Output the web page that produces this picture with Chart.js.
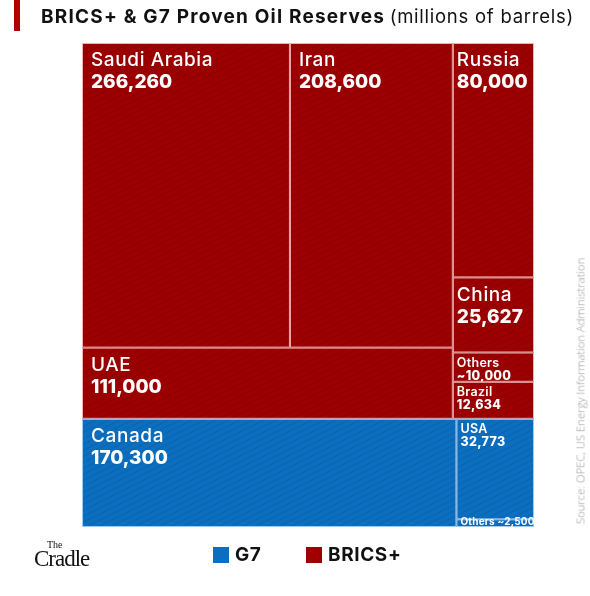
<!DOCTYPE html>
<html>
<head>
<meta charset="utf-8">
<script src="https://cdn.jsdelivr.net/npm/chart.js@4.4.1/dist/chart.umd.min.js"></script>
<style>
  html, body { margin: 0; padding: 0; background: #fff; }
  body { width: 590px; height: 596px; position: relative; overflow: hidden; font-family: Inter, "Open Sans", sans-serif; }
  #wrap { position: absolute; left: 0; top: 0; width: 590px; height: 596px; }
  .bar { position: absolute; left: 14px; top: 0; width: 6px; height: 31px; background: #b00000; }
  .title { position: absolute; left: 41px; top: 5px; color: #111; white-space: nowrap; }
  .title b { font-weight: 700; font-size: 19px; letter-spacing: 1.2px; }
  .title span { font-weight: 400; font-size: 18.5px; letter-spacing: 0.75px; }
  .legend-item { position: absolute; top: 543px; display: flex; align-items: center; font-weight: 700; font-size: 19px; color: #111; letter-spacing: 0.6px; }
  .legend-item i { display: inline-block; width: 16px; height: 16px; margin-right: 6px; }
  .logo { position: absolute; left: 34px; top: 538px; font-family: "Liberation Serif", "DejaVu Serif", serif; color: #111; line-height: 1; }
  .logo .the { position: absolute; left: 13px; top: 2px; font-size: 10px; }
  .logo .cradle { position: absolute; left: 0; top: 9px; font-size: 23px; letter-spacing: -1px; }
  .source { position: absolute; left: 580px; top: 391px; transform: translate(-50%, -50%) rotate(-90deg); white-space: nowrap; font-size: 11.3px; color: #9a9a9a; font-family: "Open Sans", sans-serif; font-weight: 300; }
</style>
</head>
<body>
<div id="wrap"><canvas id="treemap" width="590" height="596"></canvas></div>
<div class="bar"></div>
<div class="title"><b>BRICS+ &amp; G7 Proven Oil Reserves</b> <span>(millions of barrels)</span></div>
<div class="logo"><span class="the">The</span><span class="cradle">Cradle</span></div>
<div class="legend-item" style="left:213px"><i style="background:#0a6fc2"></i>G7</div>
<div class="legend-item" style="left:306px"><i style="background:#a00000"></i>BRICS+</div>
<div class="source">Source: OPEC, US Energy Information Administration</div>

<script>
// proven oil reserves, millions of barrels
const countries = ["Saudi Arabia", "Iran", "UAE", "Russia", "China", "Others", "Brazil", "Canada", "USA", "Others"];
const reserves = [266260, 208600, 111000, 80000, 25627, 10000, 12634, 170300, 32773, 2500];
const estimated = [false, false, false, false, false, true, false, false, false, true];
const blocs = ["BRICS+", "BRICS+", "BRICS+", "BRICS+", "BRICS+", "BRICS+", "BRICS+", "G7", "G7", "G7"];

// how the cells are grouped: rows / columns alternate with depth
const nesting = [[[[0, 1], 2], [3, 4, 5, 6]], [7, [8, 9]]];

const blocColors = { "BRICS+": "#9c0000", "G7": "#0b6ebf" };
const borderColors = { "BRICS+": "rgba(255,225,225,0.8)", "G7": "rgba(200,225,255,0.8)" };

function total(node) {
  if (typeof node === "number") return reserves[node];
  return node.reduce((s, n) => s + total(n), 0);
}

// slice-and-dice layout, in data units (0..1 on both axes)
function layout(node, x0, y0, x1, y1, depth, out) {
  if (typeof node === "number") {
    out.push({ i: node, x0, y0, x1, y1 });
    return out;
  }
  const sum = total(node);
  let acc = 0;
  node.forEach(child => {
    const a = acc / sum;
    acc += total(child);
    const b = acc / sum;
    if (depth % 2 === 0) {
      layout(child, x0, y0 + (y1 - y0) * a, x1, y0 + (y1 - y0) * b, depth + 1, out);
    } else {
      layout(child, x0 + (x1 - x0) * a, y0, x0 + (x1 - x0) * b, y1, depth + 1, out);
    }
  });
  return out;
}

function makeTexture(ctx, base) {
  const c = document.createElement("canvas");
  c.width = 24; c.height = 12;
  const g = c.getContext("2d");
  g.fillStyle = base;
  g.fillRect(0, 0, 24, 12);
  g.strokeStyle = "rgba(0,0,0,0.09)";
  g.lineWidth = 1;
  for (let k = -2; k <= 3; k++) {
    g.beginPath();
    g.moveTo(0, 12 + k * 6);
    g.lineTo(24, k * 6);
    g.stroke();
  }
  return ctx.createPattern(c, "repeat");
}

const treemapPlugin = {
  id: "treemap",
  beforeDatasetsDraw(chart) {
    const { ctx, scales: { x, y } } = chart;
    const cells = layout(nesting, 0, 0, 1, 1, 0, []);
    const patterns = {};
    Object.keys(blocColors).forEach(b => patterns[b] = makeTexture(ctx, blocColors[b]));

    ctx.save();
    cells.forEach(cell => {
      const px0 = x.getPixelForValue(cell.x0);
      const px1 = x.getPixelForValue(cell.x1);
      const py0 = y.getPixelForValue(cell.y0);
      const py1 = y.getPixelForValue(cell.y1);
      const w = px1 - px0, h = py1 - py0;
      const bloc = blocs[cell.i];

      ctx.fillStyle = patterns[bloc];
      ctx.fillRect(px0, py0, w, h);
      ctx.strokeStyle = borderColors[bloc];
      ctx.lineWidth = 1;
      ctx.strokeRect(px0 + 0.5, py0 + 0.5, w - 1, h - 1);

      const value = (estimated[cell.i] ? "~" : "") + reserves[cell.i].toLocaleString("en-US");
      const pad = w < 100 ? 4 : 9;
      ctx.fillStyle = "#fff";
      ctx.textBaseline = "top";
      ctx.textAlign = "left";
      if (h < 20) {
        ctx.letterSpacing = "0.2px";
        ctx.textBaseline = "middle";
        ctx.font = "700 10px Inter, sans-serif";
        ctx.fillText(countries[cell.i] + " " + value, px0 + 4, py0 + h / 2 - 1);
      } else if (w < 80 || h < 45) {
        ctx.letterSpacing = "0.3px";
        ctx.font = "600 12.5px Inter, sans-serif";
        ctx.fillText(countries[cell.i], px0 + pad, py0 + 4);
        ctx.font = "800 12.5px Inter, sans-serif";
        ctx.fillText(value, px0 + pad, py0 + 17);
      } else {
        ctx.letterSpacing = "0.6px";
        ctx.font = "500 19px Inter, sans-serif";
        ctx.fillText(countries[cell.i], px0 + pad, py0 + 8);
        ctx.letterSpacing = "0px";
        ctx.font = "800 19px Inter, sans-serif";
        ctx.fillText(value, px0 + pad, py0 + 30);
      }
    });
    ctx.restore();
  }
};

new Chart(document.getElementById("treemap"), {
  type: "scatter",
  data: { datasets: [{ data: [] }] },
  options: {
    responsive: false,
    animation: false,
    layout: { padding: { left: 82, right: 56, top: 43, bottom: 69 } },
    scales: {
      x: { type: "linear", min: 0, max: 1, display: false },
      y: { type: "linear", min: 0, max: 1, reverse: true, display: false }
    },
    plugins: { legend: { display: false }, tooltip: { enabled: false } }
  },
  plugins: [treemapPlugin]
});
</script>
</body>
</html>
